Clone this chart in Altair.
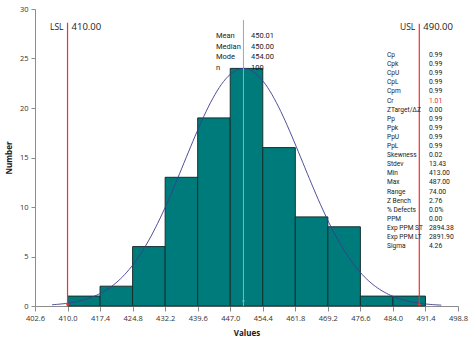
import altair as alt
import pandas as pd
import numpy as np

# ---- data ----
bin_starts = [410.0, 417.4, 424.8, 432.2, 439.6, 447.0, 454.4, 461.8, 469.2, 476.6, 484.0]
bin_width = 7.4
counts = [1, 2, 6, 13, 19, 24, 16, 9, 8, 1, 1]
x_ticks = [402.6, 410.0, 417.4, 424.8, 432.2, 439.6, 447.0, 454.4, 461.8, 469.2, 476.6, 484.0, 491.4, 498.8]
y_ticks = [0, 5, 10, 15, 20, 25, 30]
lsl, usl = 410.0, 490.0
mean_val, stdev_val, curve_peak = 450.01, 13.43, 24.0
curve_lo, curve_hi = 406.5, 495.0

center_labels = ["Mean", "Median", "Mode", "n"]
center_values = ["450.01", "450.00", "454.00", "100"]

stat_labels = ["Cp", "Cpk", "CpU", "CpL", "Cpm", "Cr", "ZTarget/ΔZ", "Pp", "Ppk", "PpU", "PpL",
               "Skewness", "Stdev", "Min", "Max", "Range", "Z Bench", "% Defects", "PPM",
               "Exp PPM ST", "Exp PPM LT", "Sigma"]
stat_values = ["0.99", "0.99", "0.99", "0.99", "0.99", "1.01", "0.00", "0.99", "0.99", "0.99", "0.99",
               "0.02", "13.43", "413.00", "487.00", "74.00", "2.76", "0.0%", "0.00",
               "2894.38", "2891.90", "4.26"]

FONT = "Open Sans"
SFONT = "Roboto"
TXT = "#1a1a1a"
RED = "#ff2a2a"
xdom = [402.6, 498.8]
ydom = [0, 30]

bars_df = pd.DataFrame({"x0": bin_starts, "x1": [b + bin_width for b in bin_starts], "count": counts})

xs = np.arange(curve_lo, curve_hi + 0.01, 0.5)
curve_df = pd.DataFrame({"x": xs, "y": curve_peak * np.exp(-0.5 * ((xs - mean_val) / stdev_val) ** 2)})

xscale = alt.Scale(domain=xdom, nice=False, zero=False)
yscale = alt.Scale(domain=ydom, nice=False)

xaxis = alt.Axis(values=x_ticks, format=".1f", title="Values", grid=False,
                 labelOverlap=False, labelFlush=False,
                 domainColor="#8c8c8c", tickColor="#8c8c8c", tickSize=5,
                 labelFont=FONT, labelFontSize=7.5, labelColor="#333333",
                 titleFont=FONT, titleFontSize=8, titleFontWeight="bold",
                 titleColor="#1a1a1a", titlePadding=8, labelPadding=3)
yaxis = alt.Axis(values=y_ticks, title="Number", grid=False, labelOverlap=False,
                 domainColor="#8c8c8c", tickColor="#8c8c8c", tickSize=4,
                 labelFont=FONT, labelFontSize=7.5, labelColor="#333333",
                 titleFont=FONT, titleFontSize=8, titleFontWeight="bold",
                 titleColor="#1a1a1a", titlePadding=6, labelPadding=3)

bars = alt.Chart(bars_df).mark_rect(fill="#007b7b", stroke="#15302f", strokeWidth=1).encode(
    x=alt.X("x0:Q", scale=xscale, axis=xaxis),
    x2="x1:Q",
    y=alt.Y("count:Q", scale=yscale, axis=yaxis),
    y2=alt.datum(0),
)

curve = alt.Chart(curve_df).mark_line(color="#3c3c8f", strokeWidth=0.9).encode(
    x=alt.X("x:Q", scale=xscale, axis=xaxis), y=alt.Y("y:Q", scale=yscale, axis=yaxis))

spec_df = pd.DataFrame({"x": [lsl, usl], "top": [28.6, 28.5]})
spec_rules = alt.Chart(spec_df).mark_rule(color=RED, strokeWidth=1.2).encode(
    x=alt.X("x:Q", scale=xscale, axis=xaxis), y=alt.Y("top:Q", scale=yscale, axis=yaxis), y2=alt.datum(0))
spec_pts = alt.Chart(spec_df).mark_point(shape="diamond", color=RED, filled=True, size=14).encode(
    x=alt.X("x:Q", scale=xscale, axis=xaxis), y=alt.datum(0.15))

mean_df = pd.DataFrame({"x": [mean_val], "top": [28.9]})
mean_rule = alt.Chart(mean_df).mark_rule(color="#7fb0d8", strokeWidth=1).encode(
    x=alt.X("x:Q", scale=xscale, axis=xaxis), y=alt.Y("top:Q", scale=yscale, axis=yaxis), y2=alt.datum(0))
mean_pt = alt.Chart(mean_df).mark_point(shape="diamond", color="#7fb0d8", filled=True, size=10).encode(
    x=alt.X("x:Q", scale=xscale, axis=xaxis), y=alt.datum(0.5))

spec_lab_df = pd.DataFrame({"x": [lsl, usl], "name": ["LSL", "USL"], "val": ["410.00", "490.00"]})
spec_names = alt.Chart(spec_lab_df).mark_text(align="right", baseline="middle", dx=-4, font=FONT,
                                              fontSize=8.5, color=TXT).encode(
    x=alt.X("x:Q", scale=xscale, axis=xaxis), y=alt.value(18), text="name:N")
spec_vals = alt.Chart(spec_lab_df).mark_text(align="left", baseline="middle", dx=4, font=FONT,
                                             fontSize=9.5, color=TXT).encode(
    x=alt.X("x:Q", scale=xscale, axis=xaxis), y=alt.value(18), text="val:N")

center_df = pd.DataFrame({"label": center_labels, "value": center_values, "row": list(range(len(center_labels)))})
center_base = alt.Chart(center_df).transform_calculate(py="27 + datum.row * 10.6")
center_l = center_base.mark_text(align="left", baseline="middle", font=SFONT, fontSize=7.5, color=TXT).encode(
    x=alt.value(181), y=alt.Y("py:Q", scale=None), text="label:N")
center_v = center_base.mark_text(align="left", baseline="middle", font=SFONT, fontSize=7.5, color=TXT).encode(
    x=alt.value(216), y=alt.Y("py:Q", scale=None), text="value:N")

stat_df = pd.DataFrame({"label": stat_labels, "value": stat_values, "row": list(range(len(stat_labels))),
                        "red": [l == "Cr" for l in stat_labels]})
stat_base = alt.Chart(stat_df).transform_calculate(py="46 + datum.row * 9.1")
stat_l = stat_base.mark_text(align="left", baseline="middle", font=SFONT, fontSize=6.6, color=TXT).encode(
    x=alt.value(352), y=alt.Y("py:Q", scale=None), text="label:N")
stat_v = stat_base.mark_text(align="left", baseline="middle", font=SFONT, fontSize=6.8).encode(
    x=alt.value(394), y=alt.Y("py:Q", scale=None), text="value:N",
    color=alt.condition("datum.red", alt.value("#e0303a"), alt.value(TXT)))

chart = alt.layer(bars, curve, mean_rule, mean_pt, spec_rules, spec_pts, spec_names, spec_vals,
                  center_l, center_v, stat_l, stat_v).properties(
    width=423, height=297,
    autosize=alt.AutoSizeParams(type="none"),
    padding={"left": 35, "top": 9, "right": 16, "bottom": 38},
    background="white",
).configure_view(stroke=None).configure_axis(labelOverlap=False)

chart.save("out.html", embed_options={"renderer": "svg", "actions": False})
